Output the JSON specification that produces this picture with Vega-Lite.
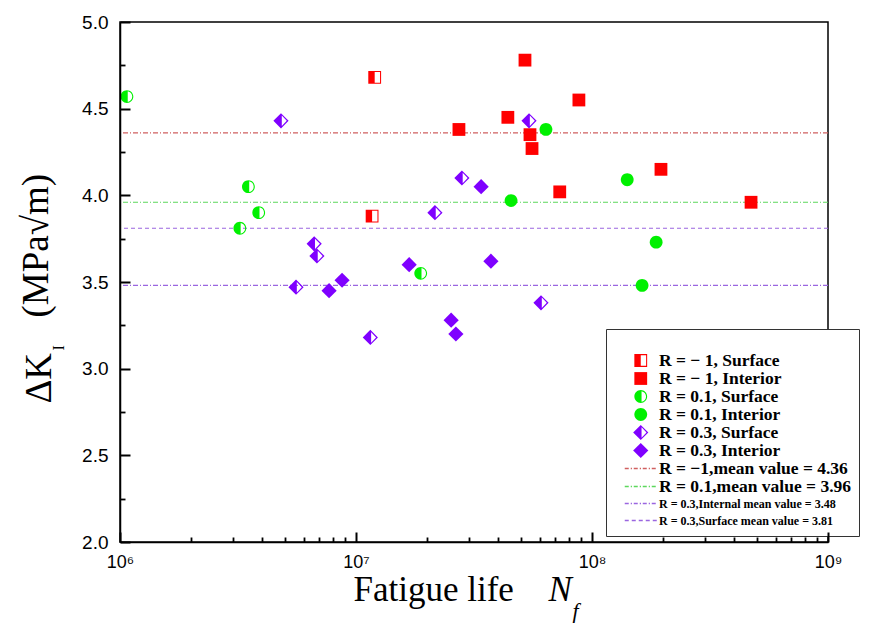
{
  "$schema": "https://vega.github.io/schema/vega-lite/v6.json",
  "width": 708,
  "height": 520,
  "autosize": {"type": "none"},
  "padding": {"left": 120, "top": 22, "right": 44, "bottom": 83},
  "background": "white",
  "config": {
    "view": {"stroke": "#000", "strokeWidth": 1.5},
    "axis": {"grid": false, "ticks": true, "tickColor": "#000"}
  },
  "datasets": {
    "pts": [
      {"N": 12000000, "K": 4.68, "series": "R = − 1, Surface", "R": "-1"},
      {"N": 11700000, "K": 3.88, "series": "R = − 1, Surface", "R": "-1"},
      {"N": 52000000, "K": 4.78, "series": "R = − 1, Interior", "R": "-1"},
      {"N": 27300000, "K": 4.38, "series": "R = − 1, Interior", "R": "-1"},
      {"N": 44000000, "K": 4.45, "series": "R = − 1, Interior", "R": "-1"},
      {"N": 54600000, "K": 4.35, "series": "R = − 1, Interior", "R": "-1"},
      {"N": 55700000, "K": 4.27, "series": "R = − 1, Interior", "R": "-1"},
      {"N": 88000000, "K": 4.55, "series": "R = − 1, Interior", "R": "-1"},
      {"N": 73000000, "K": 4.02, "series": "R = − 1, Interior", "R": "-1"},
      {"N": 196000000, "K": 4.15, "series": "R = − 1, Interior", "R": "-1"},
      {"N": 472000000, "K": 3.96, "series": "R = − 1, Interior", "R": "-1"},
      {"N": 1070000, "K": 4.57, "series": "R = 0.1, Surface", "R": "0.1"},
      {"N": 3500000, "K": 4.05, "series": "R = 0.1, Surface", "R": "0.1"},
      {"N": 3870000, "K": 3.90, "series": "R = 0.1, Surface", "R": "0.1"},
      {"N": 3220000, "K": 3.81, "series": "R = 0.1, Surface", "R": "0.1"},
      {"N": 18800000, "K": 3.55, "series": "R = 0.1, Surface", "R": "0.1"},
      {"N": 63800000, "K": 4.38, "series": "R = 0.1, Interior", "R": "0.1"},
      {"N": 45400000, "K": 3.97, "series": "R = 0.1, Interior", "R": "0.1"},
      {"N": 141000000, "K": 4.09, "series": "R = 0.1, Interior", "R": "0.1"},
      {"N": 187000000, "K": 3.73, "series": "R = 0.1, Interior", "R": "0.1"},
      {"N": 163000000, "K": 3.48, "series": "R = 0.1, Interior", "R": "0.1"},
      {"N": 4810000, "K": 4.43, "series": "R = 0.3, Surface", "R": "0.3"},
      {"N": 54100000, "K": 4.43, "series": "R = 0.3, Surface", "R": "0.3"},
      {"N": 28100000, "K": 4.10, "series": "R = 0.3, Surface", "R": "0.3"},
      {"N": 21600000, "K": 3.90, "series": "R = 0.3, Surface", "R": "0.3"},
      {"N": 6650000, "K": 3.72, "series": "R = 0.3, Surface", "R": "0.3"},
      {"N": 6830000, "K": 3.65, "series": "R = 0.3, Surface", "R": "0.3"},
      {"N": 5570000, "K": 3.47, "series": "R = 0.3, Surface", "R": "0.3"},
      {"N": 11500000, "K": 3.18, "series": "R = 0.3, Surface", "R": "0.3"},
      {"N": 60800000, "K": 3.38, "series": "R = 0.3, Surface", "R": "0.3"},
      {"N": 33900000, "K": 4.05, "series": "R = 0.3, Interior", "R": "0.3"},
      {"N": 16800000, "K": 3.60, "series": "R = 0.3, Interior", "R": "0.3"},
      {"N": 37300000, "K": 3.62, "series": "R = 0.3, Interior", "R": "0.3"},
      {"N": 7690000, "K": 3.45, "series": "R = 0.3, Interior", "R": "0.3"},
      {"N": 8730000, "K": 3.51, "series": "R = 0.3, Interior", "R": "0.3"},
      {"N": 25300000, "K": 3.28, "series": "R = 0.3, Interior", "R": "0.3"},
      {"N": 26500000, "K": 3.20, "series": "R = 0.3, Interior", "R": "0.3"}
    ],
    "means": [
      {"series": "R = −1,mean value = 4.36", "mean": 4.36},
      {"series": "R = 0.1,mean value = 3.96", "mean": 3.96},
      {"series": "R = 0.3,Internal mean value = 3.48", "mean": 3.48},
      {"series": "R = 0.3,Surface mean value = 3.81", "mean": 3.81}
    ]
  },
  "layer": [
    {
      "data": {"name": "means"},
      "mark": {"type": "rule", "strokeWidth": 1.2},
      "encoding": {
        "y": {"field": "mean", "type": "quantitative", "scale": {"domain": [2, 5], "nice": false, "zero": false}, "axis": null},
        "color": {
          "field": "series", "type": "nominal",
          "scale": {
            "domain": ["R = − 1, Surface", "R = − 1, Interior", "R = 0.1, Surface", "R = 0.1, Interior", "R = 0.3, Surface", "R = 0.3, Interior", "R = −1,mean value = 4.36", "R = 0.1,mean value = 3.96", "R = 0.3,Internal mean value = 3.48", "R = 0.3,Surface mean value = 3.81"],
            "range": ["#FF0000", "#FF0000", "#00F000", "#00F000", "#7F00FF", "#7F00FF", "#D06060", "#5CD85C", "#9A66E0", "#9A66E0"]
          },
          "legend": {
            "orient": "none", "legendX": 486, "legendY": 307,
            "title": " ", "titleFontSize": 13, "titlePadding": 3,
            "padding": 7, "fillColor": "white", "strokeColor": "#333",
            "symbolOffset": 19, "labelOffset": 9.5, "symbolSize": 256, "symbolStrokeWidth": 0,
            "labelFont": "Liberation Serif", "labelFontWeight": "bold", "labelFontSize": 17, "labelColor": "#000",
            "labelLimit": 400, "rowPadding": 0, "clipHeight": 17,
            "encode": {
              "labels": {"update": {"fontSize": {"signal": "indexof(['R = 0.3,Internal mean value = 3.48','R = 0.3,Surface mean value = 3.81'], datum.value) >= 0 ? 12 : 17.5"}}},
              "symbols": {"update": {"fill": {"scale": "color", "field": "value"}, "stroke": {"value": "transparent"}, "opacity": {"value": 1}}}
            }
          }
        },
        "strokeDash": {
          "field": "series", "type": "nominal",
          "scale": {"domain": ["R = −1,mean value = 4.36", "R = 0.1,mean value = 3.96", "R = 0.3,Internal mean value = 3.48", "R = 0.3,Surface mean value = 3.81"], "range": [[5, 2, 1, 2], [5, 2, 1, 2], [5, 2, 1, 2], [4, 3]]},
          "legend": null
        }
      }
    },
    {
      "data": {"name": "pts"},
      "transform": [{"filter": "datum.R == '-1'"}],
      "mark": {"type": "point", "filled": true, "size": 256, "opacity": 1, "strokeWidth": 0},
      "encoding": {
        "x": {
          "field": "N", "type": "quantitative",
          "scale": {"type": "log", "domain": [1000000, 1000000000], "nice": false},
          "axis": {
            "orient": "bottom", "zindex": 2,
            "values": [1000000, 10000000, 100000000, 1000000000],
            "labelExpr": "'10' + ['⁰','¹','²','³','⁴','⁵','⁶','⁷','⁸','⁹'][round(log(datum.value)/LN10)]",
            "domain": true, "domainColor": "#000", "domainWidth": 1.5,
            "ticks": true, "tickSize": -10, "tickWidth": 2, "tickColor": "#000",
            "labelFont": "Liberation Sans", "labelFontSize": 18, "labelColor": "#000", "labelPadding": 21,
            "labelFlush": false, "labelOverlap": false, "grid": false,
            "title": "Fatigue life", "titleFont": "Liberation Serif", "titleFontSize": 35, "titleFontWeight": "normal", "titleColor": "#000",
            "titleAlign": "left", "titleBaseline": "alphabetic", "titleX": 233, "titleY": 58
          }
        },
        "y": {
          "field": "K", "type": "quantitative",
          "scale": {"domain": [2, 5], "nice": false, "zero": false},
          "axis": {
            "orient": "left", "zindex": 2,
            "values": [2, 2.5, 3, 3.5, 4, 4.5, 5], "format": ".1f",
            "domain": true, "domainColor": "#000", "domainWidth": 1.5,
            "ticks": true, "tickSize": -10, "tickWidth": 2, "tickColor": "#000",
            "labelFont": "Liberation Sans", "labelFontSize": 19, "labelColor": "#000", "labelPadding": 22,
            "labelOverlap": false, "grid": false,
            "title": "ΔK", "titleFont": "Liberation Serif", "titleFontSize": 37, "titleFontWeight": "normal", "titleColor": "#000",
            "titleAngle": 270, "titleAlign": "left", "titleBaseline": "alphabetic", "titleX": -70, "titleY": 381
          }
        },
        "color": {
          "field": "series", "type": "nominal",
          "scale": {
            "domain": ["R = − 1, Surface", "R = − 1, Interior", "R = 0.1, Surface", "R = 0.1, Interior", "R = 0.3, Surface", "R = 0.3, Interior", "R = −1,mean value = 4.36", "R = 0.1,mean value = 3.96", "R = 0.3,Internal mean value = 3.48", "R = 0.3,Surface mean value = 3.81"],
            "range": ["#FF0000", "#FF0000", "#00F000", "#00F000", "#7F00FF", "#7F00FF", "#D06060", "#5CD85C", "#9A66E0", "#9A66E0"]
          }
        },
        "shape": {
          "field": "series", "type": "nominal",
          "scale": {
            "domain": ["R = − 1, Surface", "R = − 1, Interior", "R = 0.1, Surface", "R = 0.1, Interior", "R = 0.3, Surface", "R = 0.3, Interior", "R = −1,mean value = 4.36", "R = 0.1,mean value = 3.96", "R = 0.3,Internal mean value = 3.48", "R = 0.3,Surface mean value = 3.81"],
            "range": [
              "M-0.8,-0.8H0.8V0.8H-0.8ZM0,-0.67V0.67H0.67V-0.67Z",
              "M-0.8,-0.8H0.8V0.8H-0.8Z",
              "M0,-0.8A0.8,0.8 0 1,1 0,0.8A0.8,0.8 0 1,1 0,-0.8ZM0.1,-0.67L0.1,0.67A0.68,0.68 0 0,0 0.1,-0.67Z",
              "M0,-0.8A0.8,0.8 0 1,1 0,0.8A0.8,0.8 0 1,1 0,-0.8Z",
              "M0,-0.95L0.95,0L0,0.95L-0.95,0ZM0.1,-0.65L0.1,0.65L0.72,0Z",
              "M0,-0.95L0.95,0L0,0.95L-0.95,0Z",
              "M-2,-0.08H-1.5V0.08H-2ZM-1.25,-0.08H-1.1V0.08H-1.25ZM-0.875,-0.08H-0.375V0.08H-0.875ZM-0.125,-0.08H0.03V0.08H-0.125ZM0.25,-0.08H0.75V0.08H0.25ZM1,-0.08H1.15V0.08H1ZM1.375,-0.08H1.875V0.08H1.375Z",
              "M-2,-0.08H-1.5V0.08H-2ZM-1.25,-0.08H-1.1V0.08H-1.25ZM-0.875,-0.08H-0.375V0.08H-0.875ZM-0.125,-0.08H0.03V0.08H-0.125ZM0.25,-0.08H0.75V0.08H0.25ZM1,-0.08H1.15V0.08H1ZM1.375,-0.08H1.875V0.08H1.375Z",
              "M-2,-0.08H-1.5V0.08H-2ZM-1.25,-0.08H-1.1V0.08H-1.25ZM-0.875,-0.08H-0.375V0.08H-0.875ZM-0.125,-0.08H0.03V0.08H-0.125ZM0.25,-0.08H0.75V0.08H0.25ZM1,-0.08H1.15V0.08H1ZM1.375,-0.08H1.875V0.08H1.375Z",
              "M-2,-0.08H-1.5V0.08H-2ZM-1.125,-0.08H-0.625V0.08H-1.125ZM-0.25,-0.08H0.25V0.08H-0.25ZM0.625,-0.08H1.125V0.08H0.625ZM1.5,-0.08H2V0.08H1.5Z"
            ]
          }
        }
      }
    },
    {
      "data": {"name": "pts"},
      "transform": [{"filter": "datum.R == '0.1'"}],
      "mark": {"type": "point", "filled": true, "size": 256, "opacity": 1, "strokeWidth": 0},
      "encoding": {
        "x": {
          "field": "N", "type": "quantitative",
          "scale": {"type": "log", "domain": [1000000, 1000000000], "nice": false},
          "axis": {
            "orient": "bottom", "zindex": 2,
            "values": [2000000, 3000000, 4000000, 5000000, 6000000, 7000000, 8000000, 9000000, 20000000, 30000000, 40000000, 50000000, 60000000, 70000000, 80000000, 90000000, 200000000, 300000000, 400000000, 500000000, 600000000, 700000000, 800000000, 900000000],
            "labels": false, "domain": false, "grid": false,
            "ticks": true, "tickSize": -5, "tickWidth": 1.8, "tickColor": "#000",
            "title": "N", "titleFont": "Liberation Serif", "titleFontSize": 35, "titleFontWeight": "normal", "titleFontStyle": "italic", "titleColor": "#000",
            "titleAlign": "left", "titleBaseline": "alphabetic", "titleX": 428, "titleY": 58
          }
        },
        "y": {
          "field": "K", "type": "quantitative",
          "scale": {"domain": [2, 5], "nice": false, "zero": false},
          "axis": {
            "orient": "left", "zindex": 2,
            "values": [2.25, 2.75, 3.25, 3.75, 4.25, 4.75],
            "labels": false, "domain": false, "grid": false,
            "ticks": true, "tickSize": -5, "tickWidth": 1.8, "tickColor": "#000",
            "title": "I", "titleFont": "Liberation Serif", "titleFontSize": 16, "titleFontWeight": "normal", "titleColor": "#000",
            "titleAngle": 270, "titleAlign": "left", "titleBaseline": "alphabetic", "titleX": -57, "titleY": 328
          }
        },
        "color": {
          "field": "series", "type": "nominal",
          "scale": {
            "domain": ["R = − 1, Surface", "R = − 1, Interior", "R = 0.1, Surface", "R = 0.1, Interior", "R = 0.3, Surface", "R = 0.3, Interior", "R = −1,mean value = 4.36", "R = 0.1,mean value = 3.96", "R = 0.3,Internal mean value = 3.48", "R = 0.3,Surface mean value = 3.81"],
            "range": ["#FF0000", "#FF0000", "#00F000", "#00F000", "#7F00FF", "#7F00FF", "#D06060", "#5CD85C", "#9A66E0", "#9A66E0"]
          }
        },
        "shape": {
          "field": "series", "type": "nominal",
          "scale": {
            "domain": ["R = − 1, Surface", "R = − 1, Interior", "R = 0.1, Surface", "R = 0.1, Interior", "R = 0.3, Surface", "R = 0.3, Interior", "R = −1,mean value = 4.36", "R = 0.1,mean value = 3.96", "R = 0.3,Internal mean value = 3.48", "R = 0.3,Surface mean value = 3.81"],
            "range": [
              "M-0.8,-0.8H0.8V0.8H-0.8ZM0,-0.67V0.67H0.67V-0.67Z",
              "M-0.8,-0.8H0.8V0.8H-0.8Z",
              "M0,-0.8A0.8,0.8 0 1,1 0,0.8A0.8,0.8 0 1,1 0,-0.8ZM0.1,-0.67L0.1,0.67A0.68,0.68 0 0,0 0.1,-0.67Z",
              "M0,-0.8A0.8,0.8 0 1,1 0,0.8A0.8,0.8 0 1,1 0,-0.8Z",
              "M0,-0.95L0.95,0L0,0.95L-0.95,0ZM0.1,-0.65L0.1,0.65L0.72,0Z",
              "M0,-0.95L0.95,0L0,0.95L-0.95,0Z",
              "M-2,-0.08H-1.5V0.08H-2ZM-1.25,-0.08H-1.1V0.08H-1.25ZM-0.875,-0.08H-0.375V0.08H-0.875ZM-0.125,-0.08H0.03V0.08H-0.125ZM0.25,-0.08H0.75V0.08H0.25ZM1,-0.08H1.15V0.08H1ZM1.375,-0.08H1.875V0.08H1.375Z",
              "M-2,-0.08H-1.5V0.08H-2ZM-1.25,-0.08H-1.1V0.08H-1.25ZM-0.875,-0.08H-0.375V0.08H-0.875ZM-0.125,-0.08H0.03V0.08H-0.125ZM0.25,-0.08H0.75V0.08H0.25ZM1,-0.08H1.15V0.08H1ZM1.375,-0.08H1.875V0.08H1.375Z",
              "M-2,-0.08H-1.5V0.08H-2ZM-1.25,-0.08H-1.1V0.08H-1.25ZM-0.875,-0.08H-0.375V0.08H-0.875ZM-0.125,-0.08H0.03V0.08H-0.125ZM0.25,-0.08H0.75V0.08H0.25ZM1,-0.08H1.15V0.08H1ZM1.375,-0.08H1.875V0.08H1.375Z",
              "M-2,-0.08H-1.5V0.08H-2ZM-1.125,-0.08H-0.625V0.08H-1.125ZM-0.25,-0.08H0.25V0.08H-0.25ZM0.625,-0.08H1.125V0.08H0.625ZM1.5,-0.08H2V0.08H1.5Z"
            ]
          }
        }
      }
    },
    {
      "data": {"name": "pts"},
      "transform": [{"filter": "datum.R == '0.3'"}],
      "mark": {"type": "point", "filled": true, "size": 256, "opacity": 1, "strokeWidth": 0},
      "encoding": {
        "x": {
          "field": "N", "type": "quantitative",
          "scale": {"type": "log", "domain": [1000000, 1000000000], "nice": false},
          "axis": {
            "orient": "bottom",
            "ticks": false, "labels": false, "domain": false, "grid": false,
            "title": "f", "titleFont": "Liberation Serif", "titleFontSize": 22, "titleFontWeight": "normal", "titleFontStyle": "italic", "titleColor": "#000",
            "titleAlign": "left", "titleBaseline": "alphabetic", "titleX": 452, "titleY": 75
          }
        },
        "y": {
          "field": "K", "type": "quantitative",
          "scale": {"domain": [2, 5], "nice": false, "zero": false},
          "axis": {
            "orient": "left",
            "ticks": false, "labels": false, "domain": false, "grid": false,
            "title": "(MPa√m)", "titleFont": "Liberation Serif", "titleFontSize": 37, "titleFontWeight": "normal", "titleColor": "#000",
            "titleAngle": 270, "titleAlign": "left", "titleBaseline": "alphabetic", "titleX": -73, "titleY": 295
          }
        },
        "color": {
          "field": "series", "type": "nominal",
          "scale": {
            "domain": ["R = − 1, Surface", "R = − 1, Interior", "R = 0.1, Surface", "R = 0.1, Interior", "R = 0.3, Surface", "R = 0.3, Interior", "R = −1,mean value = 4.36", "R = 0.1,mean value = 3.96", "R = 0.3,Internal mean value = 3.48", "R = 0.3,Surface mean value = 3.81"],
            "range": ["#FF0000", "#FF0000", "#00F000", "#00F000", "#7F00FF", "#7F00FF", "#D06060", "#5CD85C", "#9A66E0", "#9A66E0"]
          }
        },
        "shape": {
          "field": "series", "type": "nominal",
          "scale": {
            "domain": ["R = − 1, Surface", "R = − 1, Interior", "R = 0.1, Surface", "R = 0.1, Interior", "R = 0.3, Surface", "R = 0.3, Interior", "R = −1,mean value = 4.36", "R = 0.1,mean value = 3.96", "R = 0.3,Internal mean value = 3.48", "R = 0.3,Surface mean value = 3.81"],
            "range": [
              "M-0.8,-0.8H0.8V0.8H-0.8ZM0,-0.67V0.67H0.67V-0.67Z",
              "M-0.8,-0.8H0.8V0.8H-0.8Z",
              "M0,-0.8A0.8,0.8 0 1,1 0,0.8A0.8,0.8 0 1,1 0,-0.8ZM0.1,-0.67L0.1,0.67A0.68,0.68 0 0,0 0.1,-0.67Z",
              "M0,-0.8A0.8,0.8 0 1,1 0,0.8A0.8,0.8 0 1,1 0,-0.8Z",
              "M0,-0.95L0.95,0L0,0.95L-0.95,0ZM0.1,-0.65L0.1,0.65L0.72,0Z",
              "M0,-0.95L0.95,0L0,0.95L-0.95,0Z",
              "M-2,-0.08H-1.5V0.08H-2ZM-1.25,-0.08H-1.1V0.08H-1.25ZM-0.875,-0.08H-0.375V0.08H-0.875ZM-0.125,-0.08H0.03V0.08H-0.125ZM0.25,-0.08H0.75V0.08H0.25ZM1,-0.08H1.15V0.08H1ZM1.375,-0.08H1.875V0.08H1.375Z",
              "M-2,-0.08H-1.5V0.08H-2ZM-1.25,-0.08H-1.1V0.08H-1.25ZM-0.875,-0.08H-0.375V0.08H-0.875ZM-0.125,-0.08H0.03V0.08H-0.125ZM0.25,-0.08H0.75V0.08H0.25ZM1,-0.08H1.15V0.08H1ZM1.375,-0.08H1.875V0.08H1.375Z",
              "M-2,-0.08H-1.5V0.08H-2ZM-1.25,-0.08H-1.1V0.08H-1.25ZM-0.875,-0.08H-0.375V0.08H-0.875ZM-0.125,-0.08H0.03V0.08H-0.125ZM0.25,-0.08H0.75V0.08H0.25ZM1,-0.08H1.15V0.08H1ZM1.375,-0.08H1.875V0.08H1.375Z",
              "M-2,-0.08H-1.5V0.08H-2ZM-1.125,-0.08H-0.625V0.08H-1.125ZM-0.25,-0.08H0.25V0.08H-0.25ZM0.625,-0.08H1.125V0.08H0.625ZM1.5,-0.08H2V0.08H1.5Z"
            ]
          }
        }
      }
    }
  ],
  "resolve": {"axis": {"x": "independent", "y": "independent"}}
}
